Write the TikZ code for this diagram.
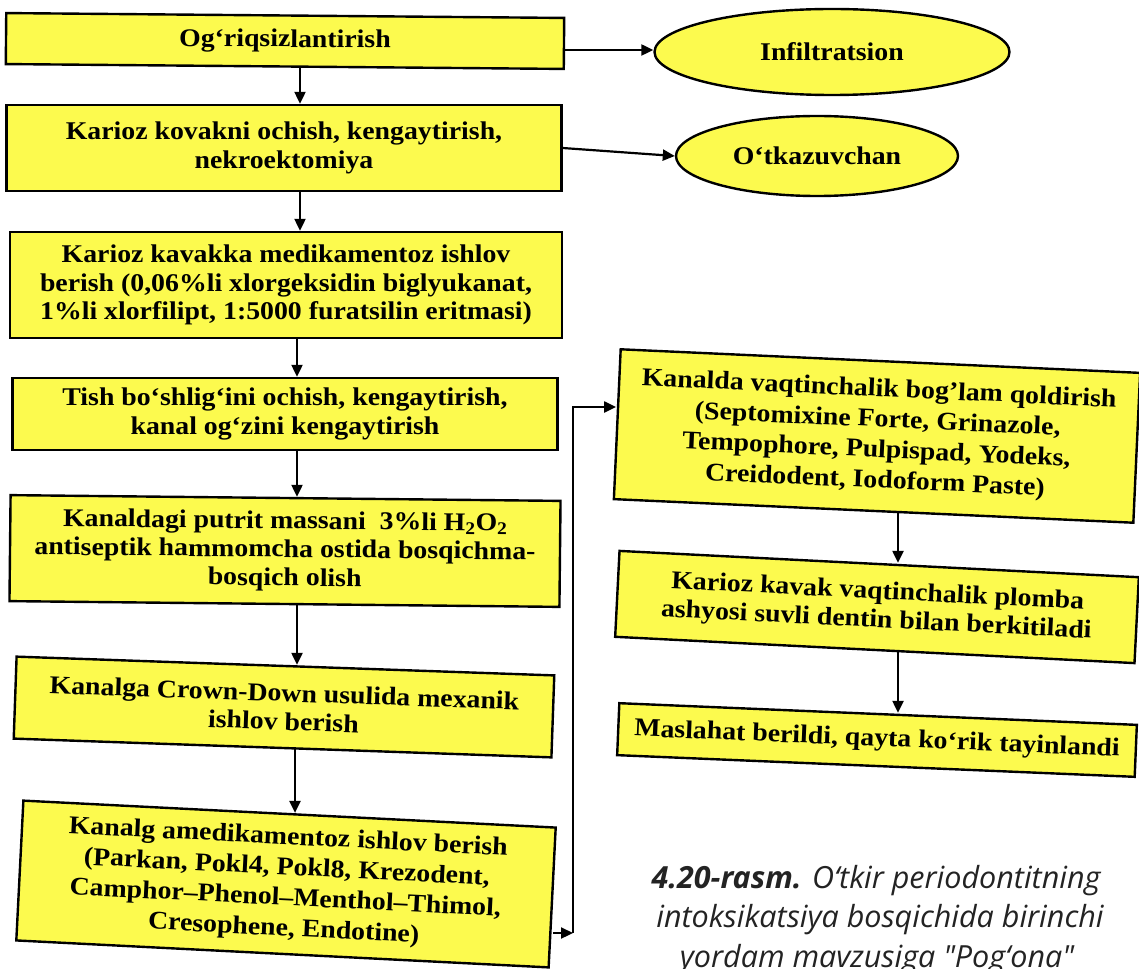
\documentclass[tikz,border=0pt]{standalone}
\usepackage{fontspec}
\setmainfont{Liberation Serif}
\newfontfamily\boxfont[FakeStretch=1.09]{Liberation Serif}
\newfontfamily\capfont{Open Sans}
\usetikzlibrary{shapes.geometric,arrows.meta}
\definecolor{boxyellow}{RGB}{252,250,78}
\definecolor{captext}{RGB}{35,35,35}
\tikzset{
  stepbox/.style={draw=black, line width=2.4pt, fill=boxyellow, align=center,
    font=\boxfont\bfseries\fontsize{25.5}{28.5}\selectfont, inner sep=1pt,
    text=black},
  widelines/.style={font=\boxfont\bfseries\fontsize{25.5}{30.5}\selectfont},
  ovalbox/.style={ellipse, draw=black, line width=2.4pt, fill=boxyellow,
    font=\boxfont\bfseries\fontsize{25.5}{28.5}\selectfont, inner sep=0pt},
  arr/.style={line width=2.2pt, -{Triangle[length=12pt,width=11pt]}},
  captxt/.style={font=\capfont\itshape\fontsize{30.5}{37}\selectfont, text=captext, anchor=base}
}
\begin{document}
\begin{tikzpicture}[x=1pt,y=-1pt]
\useasboundingbox (0,0) rectangle (1139,968);
\clip (0,0) rectangle (1139,968);

% left column of steps
\node[stepbox, minimum width=558pt, minimum height=51pt, rotate=-0.5] (b1) at (285,41)
  {Og‘riqsizlantirish};
\node[stepbox, minimum width=555pt, minimum height=86pt] (b2) at (284,148)
  {Karioz kovakni ochish, kengaytirish,\\ nekroektomiya};
\node[stepbox, minimum width=552pt, minimum height=106pt] (b3) at (286,285)
  {Karioz kavakka medikamentoz ishlov\\ berish (0,06\%li xlorgeksidin biglyukanat,\\ 1\%li xlorfilipt, 1:5000 furatsilin eritmasi)};
\node[stepbox, minimum width=545pt, minimum height=72pt] (b4) at (285,414)
  {Tish bo‘shlig‘ini ochish, kengaytirish,\\ kanal og‘zini kengaytirish};
\node[stepbox, minimum width=550pt, minimum height=106pt, rotate=-0.6] (b5) at (285,551)
  {Kanaldagi putrit massani\ \ 3\%li H\textsubscript{2}O\textsubscript{2}\\ antiseptik hammomcha ostida bosqichma-\\ bosqich olish};
\node[stepbox, minimum width=538pt, minimum height=82pt, rotate=-2] (b6) at (284,707)
  {Kanalga Crown-Down usulida mexanik\\ ishlov berish};
\node[stepbox, widelines, minimum width=533pt, minimum height=140pt, rotate=-2.9] (b7) at (286,884)
  {Kanalg amedikamentoz ishlov berish\\ (Parkan, Pokl4, Pokl8, Krezodent,\\ Camphor–Phenol–Menthol–Thimol,\\ Cresophene, Endotine)};

% right column of steps
\node[stepbox, widelines, minimum width=520pt, minimum height=150pt, rotate=-2.6] (b8) at (877,436)
  {Kanalda vaqtinchalik bog’lam qoldirish\\ (Septomixine Forte, Grinazole,\\ Tempophore, Pulpispad, Yodeks,\\ Creidodent, Iodoform Paste)};
\node[stepbox, minimum width=520pt, minimum height=86pt, rotate=-2.9] (b9) at (877,607)
  {Karioz kavak vaqtinchalik plomba\\ ashyosi suvli dentin bilan berkitiladi};
\node[stepbox, minimum width=518pt, minimum height=52pt, rotate=-2.4] (b10) at (877,740)
  {Maslahat berildi, qayta ko‘rik tayinlandi};

% anaesthesia types
\node[ovalbox, minimum width=355pt, minimum height=86pt] (e1) at (832,52) {Infiltratsion};
\node[ovalbox, minimum width=282pt, minimum height=80pt] (e2) at (817,156) {O‘tkazuvchan};

% connectors
\coordinate (xa) at (300,0);
\coordinate (xb) at (297,0);
\coordinate (xc) at (295,0);
\coordinate (xr) at (898,0);
\coordinate (ya) at (0,50);
\coordinate (c1) at (573,933);
\coordinate (c2) at (573,407);

\draw[arr] (b1.east |- ya) -- (e1.west |- ya);
\draw[arr] (b2.east) -- (e2.west);
\draw[arr] (xa |- b1.south) -- (xa |- b2.north);
\draw[arr] (xa |- b2.south) -- (xa |- b3.north);
\draw[arr] (xb |- b3.south) -- (xb |- b4.north);
\draw[arr] (xb |- b4.south) -- (xb |- b5.north);
\draw[arr] (xb |- b5.south) -- (xb |- b6.north);
\draw[arr] (xc |- b6.south) -- (xc |- b7.north);
\draw[arr] (b7.east |- c1) -- (c1);
\draw[arr] (c1) -- (c2) -- (b8.west |- c2);
\draw[arr] (xr |- b8.south) -- (xr |- b9.north);
\draw[arr] (xr |- b9.south) -- (xr |- b10.north);

% figure caption
\node[captxt] (cap1) at (876,888) {\textbf{4.20-rasm.} O‘tkir periodontitning};
\node[captxt] (cap2) at (880,927) {intoksikatsiya bosqichida birinchi};
\node[captxt] (cap3) at (877,967) {yordam mavzusiga "Pog‘ona"};
\end{tikzpicture}
\end{document}
